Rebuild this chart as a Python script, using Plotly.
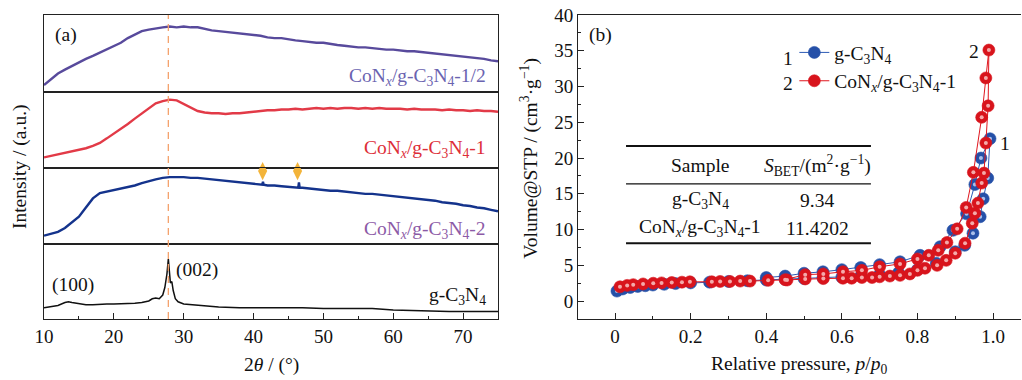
import plotly.graph_objects as go

# ---------------- XRD data (panel a) ----------------
tt = list(range(10, 76))
xrd_half = [9, 17, 24, 29, 34, 39, 43, 47, 51, 55, 59, 64, 70, 75, 79, 81, 83, 84, 85, 84,
            85, 84, 84, 82, 80, 79, 78, 77, 76, 75, 74, 73, 71, 70, 70, 68, 67, 66, 65, 64,
            64, 62, 61, 60, 59, 58, 58, 57, 56, 55, 55, 54, 53, 53, 52, 51, 50, 49, 48, 47,
            46, 45, 44, 43, 41, 40]
xrd_one = [14, 16, 18, 19, 21, 23, 26, 29, 33, 39, 45, 52, 58, 65, 72, 79, 85, 88, 90, 89,
           84, 79, 75, 73, 72, 72, 71, 72, 72, 73, 74, 75, 76, 76, 77, 77, 78, 77, 78, 79,
           78, 79, 78, 79, 79, 78, 79, 78, 79, 78, 78, 78, 77, 78, 77, 77, 77, 76, 77, 76,
           76, 75, 76, 75, 75, 74]
tt_two = [10, 11, 12, 13, 14, 15, 16, 17, 18, 19, 20, 21, 22, 23, 24, 25, 26, 27, 28, 29,
          30, 31, 32, 33, 34, 35, 36, 37, 38, 39, 40, 41, 41.25, 41.35, 41.45, 42, 43, 44, 45,
          46, 46.4, 46.5, 46.6, 47, 48, 49, 50, 51, 52, 53, 54, 55, 56, 57, 58, 59, 60, 61,
          62, 63, 64, 65, 66, 67, 68, 69, 70, 71, 72, 73, 74, 75]
xrd_two = [11, 13, 16, 21, 28, 36, 48, 60, 67, 69, 71, 72, 74, 77, 80, 83, 85, 87, 88, 88,
           88, 87, 87, 86, 85, 84, 83, 82, 81, 80, 79, 78, 78, 82, 78, 77, 77, 76, 75,
           74, 74, 81, 74, 74, 73, 72, 71, 70, 70, 69, 68, 67, 66, 66, 65, 64, 63, 62,
           61, 60, 59, 58, 57, 55, 54, 53, 51, 50, 48, 47, 45, 43]
tt_gcn = [10, 11, 12, 13, 13.5, 14, 15, 16, 17, 18, 19, 20, 21, 22, 23, 24, 25, 25.5, 26,
          26.5, 27, 27.3, 27.6, 27.8, 27.95, 28.1, 28.3, 28.5, 28.8, 29.2, 30, 31, 32, 33,
          35, 38, 40, 42, 44, 45, 47, 50, 53, 55, 57, 60, 63, 65, 68, 70, 72, 75]
xrd_gcn = [15, 16, 18, 22, 23, 22, 20, 19, 19, 20, 20, 20, 20, 20, 21, 22, 24, 27, 28,
           27, 32, 42, 60, 80, 58, 48, 50, 38, 27, 23, 20, 19, 18, 17,
           16, 15, 15, 15, 16, 16, 15, 14, 14, 14, 14, 12, 11, 11, 10, 10, 10, 10]
marker_tt = [41.3, 46.3]
marker_int = [96, 96]
peak_tt = 27.8

# ---------------- BET data (panel b) ----------------
gcn_ads_p = [0.005, 0.02, 0.04, 0.06, 0.08, 0.1, 0.13, 0.16, 0.2, 0.25, 0.3, 0.35, 0.4, 0.45,
             0.5, 0.55, 0.6, 0.65, 0.7, 0.75, 0.8, 0.85, 0.9, 0.925, 0.947, 0.966, 0.974,
             0.986, 0.992]
gcn_ads_v = [1.4, 1.7, 1.9, 2.05, 2.15, 2.25, 2.35, 2.45, 2.55, 2.65, 2.75, 2.85, 2.95, 3.05,
             3.15, 3.25, 3.35, 3.5, 3.7, 3.95, 4.4, 5.3, 6.9, 7.8, 9.5, 11.8, 14.3, 17.2, 22.7]
gcn_des_p = [0.968, 0.952, 0.93, 0.894, 0.86, 0.807, 0.754, 0.70, 0.65, 0.60, 0.55, 0.5,
             0.45, 0.4]
gcn_des_v = [20.0, 16.3, 12.2, 9.9, 7.6, 6.4, 5.5, 5.1, 4.7, 4.4, 4.1, 3.9, 3.5, 3.3]

con_ads_p = [0.013, 0.032, 0.048, 0.074, 0.101, 0.123, 0.150, 0.177, 0.198, 0.256, 0.278,
             0.304, 0.331, 0.357, 0.405, 0.455, 0.503, 0.551, 0.603, 0.626, 0.653, 0.68,
             0.70, 0.727, 0.754, 0.78, 0.80, 0.82, 0.852, 0.876, 0.90, 0.926, 0.945, 0.952,
             0.96, 0.97, 0.976, 0.981, 0.987, 0.989]
con_ads_v = [2.0, 2.2, 2.3, 2.4, 2.5, 2.55, 2.6, 2.65, 2.7, 2.7, 2.75, 2.75, 2.8, 2.8, 2.9,
             2.95, 3.1, 3.15, 3.2, 3.2, 3.3, 3.3, 3.4, 3.5, 3.6, 3.8, 4.3, 4.6, 5.0, 5.7,
             6.7, 8.1, 10.9, 12.3, 13.7, 16.5, 17.9, 22.1, 27.3, 35.1]
con_des_p = [0.981, 0.970, 0.948, 0.929, 0.905, 0.878, 0.855, 0.83, 0.80, 0.754, 0.70,
             0.653, 0.603, 0.551, 0.503, 0.45]
con_des_v = [31.2, 25.7, 18.0, 13.1, 10.1, 8.2, 7.1, 6.4, 5.9, 5.2, 4.8, 4.3, 4.1, 3.8,
             3.7, 3.0]

table_rows = ["Sample", "g-C<sub>3</sub>N<sub>4</sub>",
              "CoN<sub><i>x</i></sub>/g-C<sub>3</sub>N<sub>4</sub>-1"]
table_vals = ["<i>S</i><sub>BET</sub>/(m<sup>2</sup>·g<sup>−1</sup>)", "9.34", "11.4202"]

FONT = "Liberation Serif"
FS = 19.5
C_HALF, C_ONE, C_TWO = "#584A9C", "#E23A47", "#14338C"

fig = go.Figure()
fig.add_trace(go.Scatter(x=tt, y=xrd_half, mode="lines", line=dict(color=C_HALF, width=2.4),
                         xaxis="x", yaxis="y", showlegend=False))
fig.add_trace(go.Scatter(x=tt, y=xrd_one, mode="lines", line=dict(color=C_ONE, width=2.4),
                         xaxis="x2", yaxis="y2", showlegend=False))
fig.add_trace(go.Scatter(x=tt_two, y=xrd_two, mode="lines", line=dict(color=C_TWO, width=2.4),
                         xaxis="x3", yaxis="y3", showlegend=False))
fig.add_trace(go.Scatter(x=marker_tt, y=marker_int, mode="markers", cliponaxis=False,
                         marker=dict(symbol="diamond-tall", size=13, color="#F3B43A"),
                         xaxis="x3", yaxis="y3", showlegend=False))
fig.add_trace(go.Scatter(x=tt_gcn, y=xrd_gcn, mode="lines", line=dict(color="#111111", width=1.5),
                         xaxis="x4", yaxis="y4", showlegend=False))

series = [
    ("g-C<sub>3</sub>N<sub>4</sub>", gcn_ads_p + gcn_des_p, gcn_ads_v + gcn_des_v,
     "#2D5BB5", "#2550A8", "#A9BFEA", "g"),
    ("CoN<sub><i>x</i></sub>/g-C<sub>3</sub>N<sub>4</sub>-1", con_ads_p + con_des_p,
     con_ads_v + con_des_v, "#E0161E", "#D8141C", "#F4AAAA", "c"),
]
for name, px, vy, lc, mc, hc, grp in series:
    fig.add_trace(go.Scatter(
        x=px, y=vy, mode="lines+markers", name=name, legendgroup=grp,
        xaxis="x5", yaxis="y5", cliponaxis=False, line=dict(color=lc, width=1),
        marker=dict(size=12, color=mc, line=dict(width=0.6, color=mc))))
    fig.add_trace(go.Scatter(
        x=px, y=vy, mode="markers", legendgroup=grp, showlegend=False, hoverinfo="skip",
        xaxis="x5", yaxis="y5", cliponaxis=False,
        marker=dict(size=4, color=hc, line=dict(width=0))))

LDOM = [0, 0.4647]
RDOM = [0.5466, 1.0]
ydoms = [[0.7467, 1.0], [0.4967, 0.7467], [0.2467, 0.4967], [0.0, 0.2467]]

layout = dict(
    width=1022, height=380, margin=dict(l=44, r=1, t=15, b=61),
    paper_bgcolor="white", plot_bgcolor="white",
    font=dict(family=FONT, size=FS, color="#111111"),
    legend=dict(x=0.768, y=0.94, xanchor="left", yanchor="top", bgcolor="rgba(0,0,0,0)",
                font=dict(family=FONT, size=FS), tracegroupgap=0, itemwidth=30),
)
for i in range(4):
    sx = "" if i == 0 else str(i + 1)
    last = i == 3
    layout["xaxis" + sx] = dict(
        domain=LDOM, anchor="y" + sx, range=[10, 75], showline=True, mirror=True,
        linecolor="#222", linewidth=1.2, showgrid=False, zeroline=False,
        ticks="inside" if last else "", ticklen=6, tickwidth=1.2, tickcolor="#222",
        dtick=10, tick0=10, showticklabels=last,
        minor=dict(ticks="inside" if last else "", ticklen=3, dtick=5, tick0=10,
                   tickcolor="#222", tickwidth=1.2),
        tickfont=dict(family=FONT, size=19))
    layout["yaxis" + sx] = dict(
        domain=ydoms[i], anchor="x" + sx, range=[0, 100], showline=True, mirror=True,
        linecolor="#222", linewidth=1.2, showgrid=False, zeroline=False,
        showticklabels=False, ticks="")

layout["xaxis5"] = dict(
    domain=RDOM, anchor="y5", range=[-0.098, 1.074], showline=True, mirror=True,
    linecolor="#222", linewidth=1.2, showgrid=False, zeroline=False,
    ticks="inside", ticklen=6, tickwidth=1.2, tickcolor="#222",
    tickvals=[0, 0.2, 0.4, 0.6, 0.8, 1.0], ticktext=["0", "0.2", "0.4", "0.6", "0.8", "1.0"],
    minor=dict(ticks="inside", ticklen=3, dtick=0.1, tick0=0, tickcolor="#222", tickwidth=1.2),
    tickfont=dict(family=FONT, size=19))
layout["yaxis5"] = dict(
    domain=[0, 1], anchor="x5", range=[-2.5, 40], showline=True, mirror=False,
    linecolor="#222", linewidth=1.2, showgrid=False, zeroline=False,
    ticks="inside", ticklen=6, tickwidth=1.2, tickcolor="#222", dtick=5, tick0=0,
    minor=dict(ticks="inside", ticklen=3, dtick=2.5, tick0=0, tickcolor="#222", tickwidth=1.2),
    tickfont=dict(family=FONT, size=19))
fig.update_layout(**layout)

# dashed reference line for (002)
fig.add_shape(type="line", xref="x4", yref="paper", x0=peak_tt, x1=peak_tt, y0=0, y1=1,
              line=dict(color="#F4A26C", width=1.3, dash="7px,5px"))

ann = []
def A(**k):
    base = dict(showarrow=False, xanchor="center", yanchor="middle",
                font=dict(family=FONT, size=FS, color="#111111"))
    base.update(k)
    ann.append(base)

A(text="(a)", xref="x domain", yref="y domain", x=0.02, y=0.74, xanchor="left")
A(text="CoN<sub><i>x</i></sub>/g-C<sub>3</sub>N<sub>4</sub>-1/2", xref="x", yref="y domain",
  x=73.5, y=0.2, xanchor="right", font=dict(family=FONT, size=FS, color="#6A63B0"))
A(text="CoN<sub><i>x</i></sub>/g-C<sub>3</sub>N<sub>4</sub>-1", xref="x2", yref="y2 domain",
  x=73.5, y=0.25, xanchor="right", font=dict(family=FONT, size=FS, color="#DD2E38"))
A(text="CoN<sub><i>x</i></sub>/g-C<sub>3</sub>N<sub>4</sub>-2", xref="x3", yref="y3 domain",
  x=73.5, y=0.18, xanchor="right", font=dict(family=FONT, size=FS, color="#8C5AA6"))
A(text="g-C<sub>3</sub>N<sub>4</sub>", xref="x4", yref="y4 domain",
  x=73.5, y=0.31, xanchor="right")
A(text="(100)", xref="x4", yref="y4 domain", x=14.2, y=0.45)
A(text="(002)", xref="x4", yref="y4 domain", x=31.9, y=0.65)
A(text="Intensity / (a.u.)", xref="paper", yref="paper", x=-0.0246, y=0.503, textangle=-90)
A(text="2<i>θ</i> / (°)", xref="x4 domain", yref="paper", x=0.5, y=-0.15)

A(text="(b)", xref="x5 domain", yref="y5 domain", x=0.02, y=0.935, xanchor="left")
A(text="Volume@STP / (cm<sup>3</sup>·g<sup>−1</sup>)", xref="paper", yref="paper",
  x=0.4974, y=0.53, textangle=-90)
A(text="Relative pressure, <i>p</i>/<i>p</i><sub>0</sub>", xref="x5 domain", yref="paper",
  x=0.5, y=-0.15)
A(text="1", xref="paper", yref="paper", x=(788 - 44) / 977, y=(319 - 58) / 304)
A(text="2", xref="paper", yref="paper", x=(788 - 44) / 977, y=(319 - 83) / 304)
A(text="2", xref="paper", yref="paper", x=(974 - 44) / 977, y=(319 - 51) / 304)
A(text="1", xref="paper", yref="paper", x=(1005 - 44) / 977, y=(319 - 143) / 304)

# table
tx = [0.225, 0.535]
ty = [19.0, 14.1, 10.2]
for j in range(3):
    A(text=table_rows[j], xref="x5", yref="y5", x=tx[0], y=ty[j])
    A(text=table_vals[j], xref="x5", yref="y5", x=tx[1], y=ty[j])
fig.update_layout(annotations=ann)

for yv, w in [(21.7, 2), (16.4, 1.2), (8.1, 2)]:
    fig.add_shape(type="line", xref="x5", yref="y5", x0=0.029, x1=0.677, y0=yv, y1=yv,
                  line=dict(color="#111", width=w))

fig.write_html("out.html", config={"displayModeBar": False},
               post_script="document.body.style.margin='0px';")
